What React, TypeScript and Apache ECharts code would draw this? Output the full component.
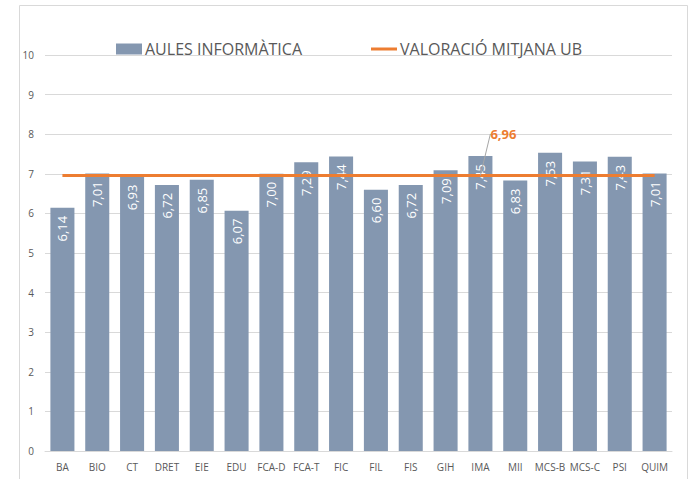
import React, { useEffect, useRef } from "react";
import * as echarts from "echarts";

const categories = ["BA", "BIO", "CT", "DRET", "EIE", "EDU", "FCA-D", "FCA-T", "FIC", "FIL", "FIS", "GIH", "IMA", "MII", "MCS-B", "MCS-C", "PSI", "QUIM"];
const aulesValues = [6.14, 7.01, 6.93, 6.72, 6.85, 6.07, 7.0, 7.29, 7.44, 6.6, 6.72, 7.09, 7.45, 6.83, 7.53, 7.31, 7.43, 7.01];
const mitjanaUB = 6.96;
const mitjanaValues = categories.map(() => mitjanaUB);
const labelIndex = 12;

const fmt = (v: number) => v.toFixed(2).replace(".", ",");

export default function App() {
  const ref = useRef<HTMLDivElement>(null);
  useEffect(() => {
    document.body.style.margin = "0";
    const chart = echarts.init(ref.current!, null, { renderer: "svg" });
    const font = "'Open Sans', sans-serif";
    const legendText = { color: "#595959", fontSize: 16, fontFamily: font, padding: [0, 0, 0, -2] };
    chart.setOption({
      animation: false,
      backgroundColor: "#ffffff",
      textStyle: { fontFamily: font },
      graphic: [
        {
          type: "rect",
          shape: { x: 19.5, y: 5.5, width: 668, height: 480 },
          style: { fill: "none", stroke: "#d9d9d9", lineWidth: 1 },
          silent: true,
        },
      ],
      legend: [
        {
          left: 116,
          top: 41,
          padding: 0,
          itemWidth: 26,
          itemHeight: 11,
          textStyle: legendText,
          data: [{ name: "AULES INFORMÀTICA", icon: "rect" }],
        },
        {
          left: 371,
          top: 41,
          padding: 0,
          itemWidth: 26,
          itemHeight: 3,
          textStyle: legendText,
          data: [{ name: "VALORACIÓ MITJANA UB", icon: "rect" }],
        },
      ],
      grid: { left: 45, right: 24, top: 55, bottom: 28, containLabel: false },
      xAxis: {
        type: "category",
        data: categories,
        axisLine: { lineStyle: { color: "#d9d9d9" } },
        axisTick: { show: false },
        axisLabel: { color: "#595959", fontSize: 10, margin: 11, fontFamily: font, interval: 0 },
      },
      yAxis: {
        type: "value",
        min: 0,
        max: 10,
        interval: 1,
        axisLine: { show: false },
        axisTick: { show: false },
        splitLine: { lineStyle: { color: "#d9d9d9" } },
        axisLabel: { color: "#595959", fontSize: 10, margin: 11, fontFamily: font },
      },
      series: [
        {
          name: "AULES INFORMÀTICA",
          type: "bar",
          data: aulesValues,
          barCategoryGap: "31%",
          z: 2,
          itemStyle: { color: "#8497b0" },
          label: {
            show: true,
            position: "insideTop",
            rotate: 90,
            align: "right",
            verticalAlign: "middle",
            distance: 8,
            color: "#ffffff",
            fontSize: 13,
            fontFamily: font,
            formatter: (p: any) => fmt(p.value),
          },
        },
        {
          name: "VALORACIÓ MITJANA UB",
          type: "line",
          data: mitjanaValues.map((v, i) =>
            i === labelIndex
              ? {
                  value: v,
                  label: {
                    show: true,
                    position: "top",
                    formatter: () => fmt(v),
                    color: "#ed7d31",
                    fontWeight: "bold",
                    fontSize: 13,
                    fontFamily: font,
                  },
                }
              : v
          ),
          symbol: "circle",
          symbolSize: 0,
          showSymbol: true,
          lineStyle: { color: "#ed7d31", width: 3 },
          itemStyle: { color: "#ed7d31" },
          z: 10,
          labelLayout: { dx: 23, dy: -30 },
          labelLine: { show: true, lineStyle: { color: "#a6a6a6", width: 1 } },
        },
      ],
    });
    return () => chart.dispose();
  }, []);
  return <div ref={ref} style={{ width: 696, height: 479 }} />;
}
